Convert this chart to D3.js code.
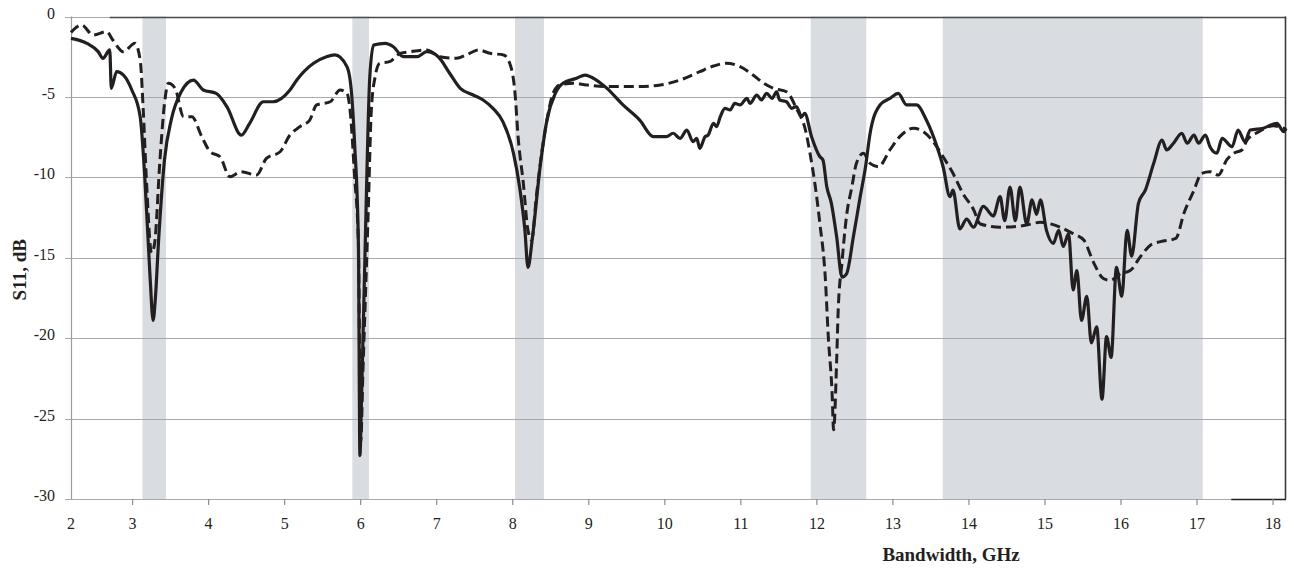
<!DOCTYPE html>
<html>
<head>
<meta charset="utf-8">
<script src="https://cdn.jsdelivr.net/npm/d3@7"></script>
<style>
  html, body { margin: 0; padding: 0; background: #ffffff; }
  svg { display: block; }
</style>
</head>
<body>
<script>
// ---------------- data ----------------
const xAxisStart = 2.19;   // left edge of the plot (labelled "2")
const xAxisEnd = 18.17;
const xTickValues = [2, 3, 4, 5, 6, 7, 8, 9, 10, 11, 12, 13, 14, 15, 16, 17, 18];
const xTickLabels = ["2","3","4","5","6","7","8","9","10","11","12","13","14","15","16","17","18"];
const yTickValues = [0, -5, -10, -15, -20, -25, -30];
const yTickLabels = ["0", "-5", "-10", "-15", "-20", "-25", "-30"];

// shaded frequency bands (GHz)
const bandStart = [3.13, 5.89, 8.03, 11.92, 13.655];
const bandEnd   = [3.44, 6.11, 8.41, 12.65, 17.075];

// solid curve
const freqSolid = [2.19,2.40,2.55,2.61,2.70,2.72,2.79,2.88,2.99,3.10,3.16,3.23,3.27,3.30,3.34,3.42,3.51,3.64,3.80,3.93,
  4.10,4.24,4.43,4.54,4.72,4.85,5.07,5.16,5.38,5.55,5.66,5.82,5.88,5.92,5.97,5.99,6.01,6.06,6.12,6.17,
  6.32,6.43,6.56,6.74,6.87,7.02,7.17,7.31,7.48,7.61,7.74,7.87,8.01,8.09,8.16,8.20,8.26,8.36,8.45,8.56,
  8.66,8.84,8.95,9.10,9.24,9.45,9.67,9.85,
  10.02,10.11,10.20,10.29,10.37,10.42,10.46,10.53,10.57,10.64,10.68,10.73,10.79,10.86,10.92,10.99,11.08,11.12,11.21,11.27,
  11.34,11.41,11.47,11.51,11.60,11.67,11.73,11.80,11.84,11.93,12.04,12.08,
  12.13,12.19,12.26,12.33,12.39,12.48,12.57,12.64,12.70,12.83,12.96,13.07,13.18,13.31,13.44,13.58,
  13.66,13.75,13.79,13.88,13.97,14.06,14.19,14.32,14.41,14.47,14.54,14.61,14.67,14.76,14.83,14.89,14.94,15.02,15.11,15.18,
  15.24,15.31,15.37,15.42,15.48,15.55,15.61,15.68,15.75,15.81,15.87,15.94,16.01,16.08,16.14,16.23,16.32,16.43,16.54,16.60,
  16.69,16.80,16.87,16.96,17.02,17.11,17.17,17.26,17.33,17.46,17.54,17.63,17.70,17.87,18.05,18.14,18.17];
const s11Solid = [-1.36,-1.67,-2.2,-2.6,-2.08,-4.47,-3.43,-3.64,-4.57,-6.23,-9.96,-16.2,-18.9,-17.5,-14.1,-8.9,-6.4,-4.68,-3.95,-4.57,
  -4.78,-5.6,-7.37,-6.64,-5.3,-5.3,-4.57,-3.95,-2.91,-2.5,-2.39,-3.12,-4.78,-7.9,-14.1,-27.3,-24,-14.1,-3.74,-1.77,
  -1.67,-1.88,-2.5,-2.5,-2.19,-2.5,-3.53,-4.47,-4.88,-5.19,-5.71,-6.54,-8.51,-10.6,-13.3,-15.6,-13.7,-9.34,-6.44,-4.78,
  -4.15,-3.84,-3.64,-3.95,-4.47,-5.5,-6.44,-7.47,
  -7.47,-7.26,-7.58,-7.06,-7.78,-7.58,-8.2,-7.47,-7.37,-6.64,-6.85,-6.23,-5.71,-5.81,-5.4,-5.5,-5.09,-5.4,-4.88,-5.19,
  -4.78,-5.09,-4.68,-5.19,-5.3,-5.71,-5.6,-6.23,-6.02,-7.47,-8.72,-8.92,
  -10.58,-11.6,-13.7,-16.2,-16.0,-13.7,-11.2,-9.34,-7.26,-5.5,-5.09,-4.78,-5.5,-5.5,-6.44,-8.1,
  -9.34,-11.2,-10.8,-13.2,-12.6,-13.1,-11.8,-12.4,-11.2,-12.7,-10.6,-12.7,-10.6,-12.9,-11.4,-12.3,-11.4,-13.3,-14.1,-13.3,
  -14.3,-13.5,-17.0,-15.8,-18.9,-17.4,-20.3,-19.3,-23.8,-19.9,-21.2,-15.6,-17.4,-13.3,-14.9,-11.6,-10.8,-9.13,-7.68,-8.3,
  -7.88,-7.26,-7.88,-7.37,-7.88,-7.37,-8.1,-8.5,-7.58,-8.1,-7.06,-7.78,-7.06,-6.95,-6.64,-7.16,-6.95];

// dashed curve
const freqDashed = [2.19,2.22,2.33,2.48,2.66,2.74,2.88,3.03,3.10,3.14,3.18,3.25,3.29,3.36,3.42,3.47,3.56,3.67,3.78,3.91,
  4.02,4.15,4.28,4.43,4.63,4.76,4.94,5.07,5.20,5.33,5.42,5.60,5.73,5.82,5.86,5.92,5.97,6.00,6.03,6.10,
  6.14,6.19,6.25,6.38,6.52,6.65,6.87,7.04,7.26,7.39,7.55,7.70,7.88,7.96,8.03,8.07,8.14,8.20,8.25,8.31,
  8.38,8.45,8.53,8.62,8.80,8.97,9.24,9.63,9.94,10.20,10.46,10.64,10.81,10.99,11.16,11.30,11.43,11.60,11.74,11.85,
  11.91,11.98,12.04,12.11,12.15,12.20,12.22,12.26,12.28,12.33,12.39,12.46,12.52,12.61,12.70,12.81,12.96,13.09,13.27,13.40,
  13.53,13.66,13.79,13.92,14.06,14.15,14.41,14.72,14.94,15.20,15.37,15.51,15.64,15.77,15.86,15.99,16.12,16.26,16.39,16.52,
  16.72,16.83,16.96,17.06,17.17,17.28,17.39,17.48,17.59,17.66,17.80,18.00,18.17];
const s11Dashed = [-1.0,-0.84,-0.53,-1.15,-0.94,-1.46,-2.19,-1.67,-2.7,-5.81,-9.96,-14.7,-14.1,-8.92,-5.4,-4.15,-4.47,-6.23,-6.23,-7.47,
  -8.41,-8.72,-9.96,-9.65,-9.86,-8.82,-8.41,-7.37,-6.85,-6.44,-5.5,-5.3,-4.57,-4.78,-5.81,-9.96,-14.1,-26.5,-22,-12.0,
  -5.81,-3.74,-2.91,-2.81,-2.29,-2.19,-2.08,-2.5,-2.6,-2.39,-2.08,-2.29,-2.39,-2.91,-4.78,-7.47,-10.4,-13.3,-13.9,-11.2,
  -8.51,-6.44,-4.78,-4.26,-4.15,-4.26,-4.36,-4.36,-4.26,-3.95,-3.43,-3.08,-2.91,-3.12,-3.64,-4.15,-4.47,-4.68,-5.81,-7.06,
  -8.51,-10.6,-12.9,-16.2,-19.9,-23.4,-25.7,-21.4,-18.3,-15.3,-12.4,-10.6,-9.13,-8.51,-9.13,-9.34,-8.3,-7.47,-6.95,-7.16,
  -7.78,-8.72,-9.75,-11.0,-12.0,-12.9,-13.1,-13.0,-12.8,-13.1,-13.5,-13.9,-15.3,-16.3,-16.4,-16.0,-15.8,-14.9,-14.2,-14.0,
  -13.8,-12.2,-10.8,-9.75,-9.65,-9.86,-8.92,-8.51,-8.3,-7.68,-7.2,-6.8,-7.0];

// ---------------- drawing ----------------
const W = 1289, H = 569;
const margin = { left: 71, right: 3, top: 16.5, bottom: 70 };
const x = d3.scaleLinear().domain([xAxisStart, xAxisEnd]).range([margin.left, W - margin.right]);
const y = d3.scaleLinear().domain([-30, 0]).range([H - margin.bottom, margin.top]);

const svg = d3.select("body").append("svg").attr("width", W).attr("height", H);
const textColor = "#231f20";
const serif = "'Liberation Serif', 'Times New Roman', serif";

// bands
svg.append("g").selectAll("rect").data(bandStart.map((s, i) => [s, bandEnd[i]])).join("rect")
  .attr("x", d => x(d[0])).attr("width", d => x(d[1]) - x(d[0]))
  .attr("y", y(0)).attr("height", y(-30) - y(0))
  .attr("fill", "#d9dce0");

// horizontal gridlines (extend a little left as tick marks)
svg.append("g").selectAll("line").data(yTickValues).join("line")
  .attr("x1", x.range()[0] - 6).attr("x2", x.range()[1])
  .attr("y1", d => Math.round(y(d)) + 0.5).attr("y2", d => Math.round(y(d)) + 0.5)
  .attr("stroke", "#a7a9ac").attr("stroke-width", 1.2);

// left axis line
svg.append("line")
  .attr("x1", x.range()[0] + 0.5).attr("x2", x.range()[0] + 0.5)
  .attr("y1", y(0)).attr("y2", y(-30))
  .attr("stroke", "#9a9c9f").attr("stroke-width", 1.2);

// top and right frame
svg.append("line")
  .attr("x1", x(2.7)).attr("x2", x.range()[1])
  .attr("y1", Math.round(y(0)) + 0.5).attr("y2", Math.round(y(0)) + 0.5)
  .attr("stroke", "#4a4a4a").attr("stroke-width", 1.4);
svg.append("line")
  .attr("x1", x.range()[1] - 0.5).attr("x2", x.range()[1] - 0.5)
  .attr("y1", y(0)).attr("y2", y(-30))
  .attr("stroke", "#3a3a3a").attr("stroke-width", 1.6);
svg.append("line")
  .attr("x1", x(17.45)).attr("x2", x.range()[1])
  .attr("y1", Math.round(y(-30)) + 0.5).attr("y2", Math.round(y(-30)) + 0.5)
  .attr("stroke", "#222").attr("stroke-width", 1.4);

// x axis ticks and labels
const xTickPos = xTickValues.map(v => Math.max(v, xAxisStart));
const xt = svg.append("g");
xt.selectAll("line").data(xTickPos.slice(1)).join("line")
  .attr("x1", d => x(d)).attr("x2", d => x(d))
  .attr("y1", y(-30)).attr("y2", y(-30) + 6)
  .attr("stroke", "#8a8c8f").attr("stroke-width", 1.2);
xt.selectAll("text").data(xTickPos).join("text")
  .attr("x", d => x(d)).attr("y", y(-30) + 30)
  .attr("text-anchor", "middle")
  .attr("font-family", serif).attr("font-size", 16).attr("fill", textColor)
  .text((d, i) => xTickLabels[i]);

// y axis labels
svg.append("g").selectAll("text").data(yTickValues).join("text")
  .attr("x", x.range()[0] - 16).attr("y", d => y(d) + 2)
  .attr("text-anchor", "end")
  .attr("font-family", serif).attr("font-size", 16).attr("fill", textColor)
  .text((d, i) => yTickLabels[i]);

// axis titles
svg.append("text")
  .attr("x", x(16.0) - 170).attr("y", H - 8)
  .attr("text-anchor", "middle")
  .attr("font-family", serif).attr("font-size", 19).attr("font-weight", "bold").attr("fill", textColor)
  .text("Bandwidth, GHz");
svg.append("text")
  .attr("transform", `translate(26, ${(y(0) + y(-30)) / 2 + 12}) rotate(-90)`)
  .attr("text-anchor", "middle")
  .attr("font-family", serif).attr("font-size", 19).attr("font-weight", "bold").attr("fill", textColor)
  .text("S11, dB");

// curves
const line = d3.line().x(d => x(d[0])).y(d => y(d[1])).curve(d3.curveMonotoneX);
svg.append("path")
  .datum(freqDashed.map((f, i) => [f, s11Dashed[i]]))
  .attr("d", line).attr("fill", "none")
  .attr("stroke", "#231f20").attr("stroke-width", 3)
  .attr("stroke-dasharray", "10,5").attr("stroke-linejoin", "round");
svg.append("path")
  .datum(freqSolid.map((f, i) => [f, s11Solid[i]]))
  .attr("d", line).attr("fill", "none")
  .attr("stroke", "#231f20").attr("stroke-width", 3.2)
  .attr("stroke-linejoin", "round");
</script>
</body>
</html>
